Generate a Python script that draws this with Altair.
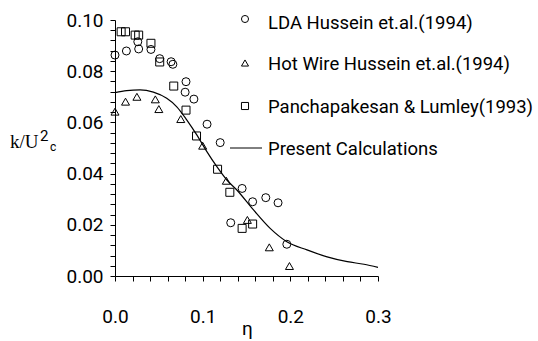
import altair as alt
import pandas as pd

# ---- data ----
lda_eta = [0.000, 0.013, 0.026, 0.027, 0.041, 0.051, 0.064, 0.066, 0.080, 0.081,
           0.090, 0.105, 0.120, 0.132, 0.145, 0.157, 0.172, 0.186, 0.196]
lda_k = [0.0863, 0.0879, 0.0915, 0.0887, 0.0885, 0.0849, 0.0837, 0.0827, 0.0718, 0.0759,
         0.0691, 0.0593, 0.0521, 0.0208, 0.0342, 0.0290, 0.0306, 0.0286, 0.0124]

hw_eta = [0.000, 0.012, 0.025, 0.046, 0.050, 0.075, 0.100, 0.127, 0.151, 0.176, 0.199]
hw_k = [0.0642, 0.0681, 0.0700, 0.0690, 0.0652, 0.0613, 0.0509, 0.0372, 0.0219, 0.0112, 0.0039]

pl_eta = [0.007, 0.012, 0.023, 0.027, 0.041, 0.051, 0.067, 0.081, 0.093, 0.117, 0.131, 0.145, 0.157]
pl_k = [0.0954, 0.0954, 0.0941, 0.0941, 0.0909, 0.0836, 0.0742, 0.0648, 0.0547, 0.0417, 0.0327, 0.0186, 0.0203]

calc_eta = [0.000, 0.0133, 0.0286, 0.0438, 0.059, 0.0705, 0.082, 0.0933, 0.1048, 0.1162,
            0.1276, 0.139, 0.158, 0.177, 0.196, 0.219, 0.242, 0.265, 0.284, 0.300]
calc_k = [0.0716, 0.0724, 0.0727, 0.0718, 0.0694, 0.0661, 0.0609, 0.0551, 0.0486, 0.0427,
          0.0375, 0.0336, 0.0258, 0.0186, 0.0134, 0.0102, 0.0075, 0.0056, 0.0046, 0.0034]

series_names = ["LDA Hussein et.al.(1994)", "Hot Wire Hussein et.al.(1994)",
                "Panchapakesan & Lumley(1993)", "Present Calculations"]

x_tick_values = [round(i * 0.02, 2) for i in range(16)]
y_tick_values = [round(i * 0.004, 3) for i in range(26)]

pts = pd.concat([
    pd.DataFrame({"eta": lda_eta, "k": lda_k, "series": series_names[0]}),
    pd.DataFrame({"eta": hw_eta, "k": hw_k, "series": series_names[1]}),
    pd.DataFrame({"eta": pl_eta, "k": pl_k, "series": series_names[2]}),
], ignore_index=True)
calc = pd.DataFrame({"eta": calc_eta, "k": calc_k})
one = pd.DataFrame({"a": [0]})

FONT = "Roboto"
FS = 19
LFS = 18.5

x_axis = alt.Axis(values=x_tick_values, tickCount=100, title=None, grid=False,
                  labelExpr="abs(datum.value*10 - round(datum.value*10)) < 0.001 ? format(datum.value, '.1f') : ''",
                  labelFont=FONT, labelFontSize=FS, labelColor="black",
                  labelPadding=26, tickSize=5, tickColor="black", domainColor="black",
                  labelFlush=False, labelOverlap=False, labelBound=False)
y_axis = alt.Axis(values=y_tick_values, tickCount=100, title=None, grid=False,
                  labelExpr="abs(datum.value*50 - round(datum.value*50)) < 0.001 ? format(datum.value, '.2f') : ''",
                  labelFont=FONT, labelFontSize=FS, labelColor="black",
                  labelPadding=7, tickSize=5, tickColor="black", domainColor="black",
                  labelFlush=False, labelOverlap=False, labelBound=False)

xs = alt.Scale(domain=[0, 0.3], nice=False, zero=False)
ys = alt.Scale(domain=[0, 0.1], nice=False, zero=False)

points = alt.Chart(pts).mark_point(filled=False, color="black", strokeWidth=1, size=64, opacity=1).encode(
    x=alt.X("eta:Q", scale=xs, axis=x_axis),
    y=alt.Y("k:Q", scale=ys, axis=y_axis),
    shape=alt.Shape("series:N", scale=alt.Scale(domain=series_names[:3],
                                                range=["circle", "triangle-up", "square"]), legend=None),
)

line = alt.Chart(calc).mark_line(color="black", strokeWidth=1.2, interpolate="monotone").encode(
    x=alt.X("eta:Q", scale=xs, axis=x_axis),
    y=alt.Y("k:Q", scale=ys, axis=y_axis),
)

# ---- manual legend ----
leg = []
for shape, ypos in [("circle", -1), ("triangle-up", 43), ("square", 86)]:
    leg.append(alt.Chart(one).mark_point(shape=shape, filled=False, color="black",
                                         strokeWidth=1, size=50, opacity=1).encode(
        x=alt.value(130), y=alt.value(ypos)))
leg.append(alt.Chart(one).mark_rule(color="black", strokeWidth=1).encode(
    x=alt.value(115), x2=alt.value(147), y=alt.value(128)))
for name, yb in zip(series_names, [9, 50, 93, 135]):
    leg.append(alt.Chart(one).mark_text(text=name, align="left", baseline="alphabetic",
                                        font=FONT, fontSize=LFS, color="black").encode(
        x=alt.value(153), y=alt.value(yb)))

# ---- axis titles ----
titles = [
    alt.Chart(one).mark_text(text="k/U", align="left", baseline="alphabetic",
                             font="Liberation Serif", fontSize=19, color="black").encode(
        x=alt.value(-105), y=alt.value(128)),
    alt.Chart(one).mark_text(text="2", align="left", baseline="alphabetic",
                             font=FONT, fontSize=15, color="black").encode(
        x=alt.value(-75), y=alt.value(121)),
    alt.Chart(one).mark_text(text="c", align="left", baseline="alphabetic",
                             font=FONT, fontSize=12, color="black").encode(
        x=alt.value(-65), y=alt.value(131)),
    alt.Chart(one).mark_text(text="η", align="center", baseline="alphabetic",
                             font=FONT, fontSize=19, color="black").encode(
        x=alt.value(132.5), y=alt.value(315)),
]

chart = alt.layer(line, points, *leg, *titles).properties(
    width=263, height=256,
    autosize=alt.AutoSizeParams(type="none"),
    padding={"left": 115, "top": 20, "right": 160, "bottom": 65},
    background="white",
).configure_view(stroke="transparent")

chart.save("out.html", embed_options={"renderer": "svg", "actions": False})
